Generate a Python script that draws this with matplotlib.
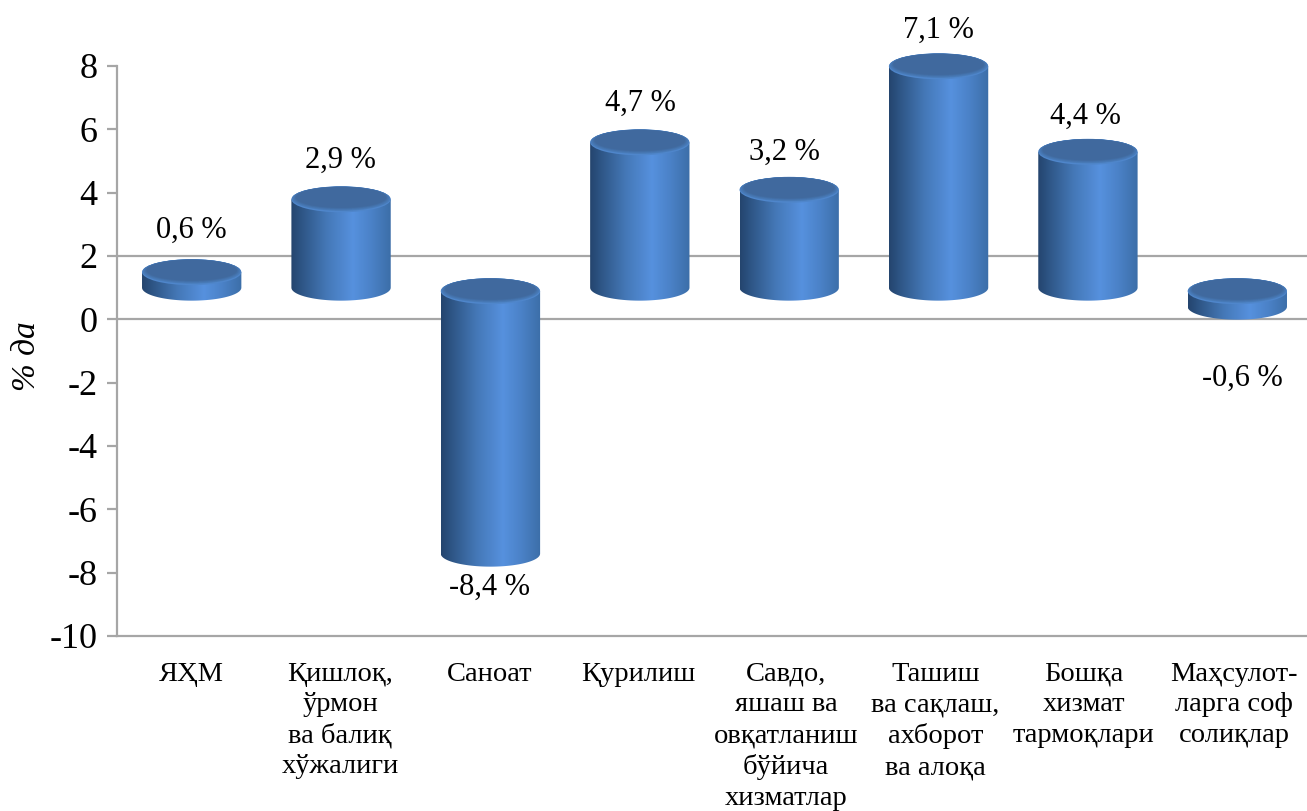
import numpy as np
import matplotlib
matplotlib.use('Agg')
import matplotlib.pyplot as plt
from matplotlib.colors import LinearSegmentedColormap
from matplotlib.patches import Ellipse, PathPatch
from matplotlib.path import Path
from matplotlib.transforms import ScaledTranslation

plt.rcParams['font.family'] = ['Liberation Serif', 'DejaVu Serif']

categories = ['ЯҲМ', 'Қишлоқ,\nўрмон\nва балиқ\nхўжалиги', 'Саноат', 'Қурилиш',
              'Савдо,\nяшаш ва\nовқатланиш\nбўйича\nхизматлар',
              'Ташиш\nва сақлаш,\nахборот\nва алоқа',
              'Бошқа\nхизмат\nтармоқлари', 'Маҳсулот-\nларга соф\nсолиқлар']
values = [0.6, 2.9, -8.4, 4.7, 3.2, 7.1, 4.4, -0.6]
value_labels = ['0,6 %', '2,9 %', '-8,4 %', '4,7 %', '3,2 %', '7,1 %', '4,4 %', '-0,6 %']
y_ticks = [8, 6, 4, 2, 0, -2, -4, -6, -8, -10]
grid_lines = [2, 0]

W, H = 1307, 811
GREY = '#a6a6a6'
LIFT = 1.0       # псевдо-3D: дно цилиндра приподнято над нулём
BAR_W = 0.665
ELL_H = 0.82
CAP_DROP = 0.11

body_cmap = LinearSegmentedColormap.from_list('body', [
    (0.0, '#24456e'), (0.12, '#2f5788'), (0.35, '#4477b6'),
    (0.62, '#5691de'), (0.8, '#4b82c8'), (1.0, '#3c6ea8')])

fig = plt.figure(figsize=(W / 100, H / 100), dpi=100)
ax = fig.add_axes([117 / W, 1 - 636 / H, (1312 - 117) / W, (636 - 66) / H])

for g in grid_lines:
    ax.axhline(g, color=GREY, lw=1.6, zorder=1)


def cylinder(x, low, high):
    # тело цилиндра с горизонтальным градиентом
    a = BAR_W / 2
    b = ELL_H / 2
    t = np.linspace(np.pi, 2 * np.pi, 60)
    xs = x + a * np.cos(t)
    ys = low + b * np.sin(t)
    verts = list(zip(xs, ys)) + [(x + a, high), (x - a, high), (x - a, low)]
    clip = PathPatch(Path(verts), transform=ax.transData, fc='none', ec='none')
    ax.add_patch(clip)
    grad = np.linspace(0, 1, 256).reshape(1, -1)
    im = ax.imshow(grad, cmap=body_cmap, aspect='auto', zorder=3,
                   extent=[x - a, x + a, low - b, high])
    im.set_clip_path(clip)
    im.set_clip_box(fig.bbox)
    # верхняя крышка со скосом
    cap_kw = dict(zorder=4, clip_on=False, lw=0)
    ax.add_patch(Ellipse((x, high), BAR_W, ELL_H, fc='#4f86cb', **cap_kw))
    steps = 7
    for i in range(steps):
        k = i / (steps - 1)
        col = np.array([0x4a, 0x7e, 0xbd]) * (1 - k) + np.array([0x40, 0x69, 0x9e]) * k
        ax.add_patch(Ellipse((x, high + 0.02 + 0.04 * k), BAR_W * (0.99 - 0.08 * k),
                             ELL_H * (0.94 - 0.14 * k), fc=col / 255, **cap_kw))


label_dx = [0, -1, -1, 1, -5, 0, -3, 5]  # подписи в оригинале сдвинуты вручную
label_dy = [38, 36, -34, 36, 34, 33, 32, -72]
xlabel_dx = [0, -1, -1, -2, -3, -3, -4, -3]

for i, v in enumerate(values):
    low = min(LIFT, LIFT + v)
    high = max(LIFT, LIFT + v)
    cylinder(i, low, high - CAP_DROP)
    ax.annotate(value_labels[i], (i, LIFT + v),
                xytext=(label_dx[i] * 0.72, label_dy[i] * 0.72), textcoords='offset points',
                ha='center', va='center', fontsize=22, color='black',
                annotation_clip=False, zorder=6)

ax.set_xlim(-0.5, len(values) - 0.5)
ax.set_ylim(-10, 8)
ax.set_yticks(y_ticks)
ax.set_yticklabels([str(t) for t in y_ticks], fontsize=26)
ax.set_xticks(range(len(categories)))
ax.set_xticklabels(categories, fontsize=20.5, linespacing=1.3)
ax.tick_params(axis='y', length=7, width=1.6, color=GREY, pad=7)
ax.tick_params(axis='x', length=0, pad=18.5)
for lab, dx in zip(ax.get_xticklabels(), xlabel_dx):
    lab.set_verticalalignment('top')
    lab.set_transform(lab.get_transform() + ScaledTranslation(dx / 100, 0, fig.dpi_scale_trans))

ax.spines['top'].set_visible(False)
ax.spines['right'].set_visible(False)
ax.spines['left'].set_color(GREY)
ax.spines['bottom'].set_color(GREY)
ax.spines['left'].set_linewidth(1.6)
ax.spines['bottom'].set_linewidth(1.6)

fig.text(27 / W, 1 - 356 / H, '% да', rotation=90, style='italic', fontsize=24,
         ha='center', va='center')

fig.savefig('out.png', dpi=100)
